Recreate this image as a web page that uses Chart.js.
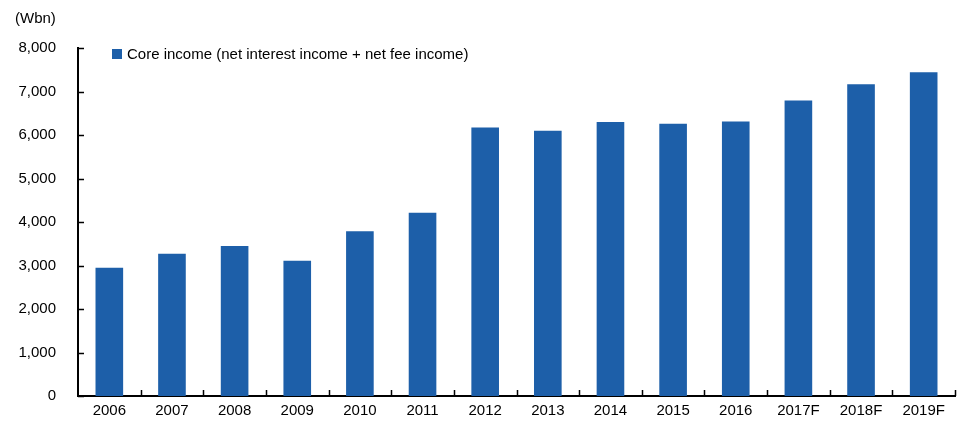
<!DOCTYPE html>
<html>
<head>
<meta charset="utf-8">
<script src="https://cdn.jsdelivr.net/npm/chart.js@4/dist/chart.umd.min.js"></script>
<style>
  html, body { margin: 0; padding: 0; background: #fff; }
  #wrap { width: 967px; height: 427px; }
</style>
</head>
<body>
<div id="wrap"><canvas id="myChart"></canvas></div>
<script>
const years = ['2006', '2007', '2008', '2009', '2010', '2011', '2012', '2013', '2014', '2015', '2016', '2017F', '2018F', '2019F'];
const coreIncome = [2950, 3270, 3450, 3110, 3785, 4215, 6170, 6100, 6300, 6260, 6310, 6795, 7165, 7445];
const seriesName = 'Core income (net interest income + net fee income)';
const unitLabel = '(Wbn)';

const barColor = '#1d5fa9';
const font = { family: '"Liberation Sans", Arial, sans-serif', size: 15 };

// inward tick marks, unit label and the legend in the top-left corner
const extras = {
    id: 'extras',
    afterDraw(chart) {
        const { ctx, chartArea, scales } = chart;
        const x = scales.x, y = scales.y;
        ctx.save();
        ctx.strokeStyle = '#000';
        ctx.lineWidth = 1.5;
        ctx.beginPath();
        y.ticks.forEach(t => {
            const py = Math.round(y.getPixelForValue(t.value)) + 0.5;
            ctx.moveTo(chartArea.left, py);
            ctx.lineTo(chartArea.left + 6, py);
        });
        const w = (chartArea.right - chartArea.left) / years.length;
        for (let i = 1; i <= years.length; i++) {
            const px = Math.round(chartArea.left + i * w) + 0.5;
            ctx.moveTo(px, chartArea.bottom);
            ctx.lineTo(px, chartArea.bottom - 6);
        }
        ctx.stroke();

        ctx.fillStyle = '#000';
        ctx.font = font.size + 'px ' + font.family;
        ctx.textBaseline = 'middle';
        ctx.textAlign = 'left';
        ctx.fillText(unitLabel, 15, 19);

        const ds = chart.data.datasets[0];
        ctx.fillStyle = ds.backgroundColor;
        ctx.fillRect(112, 49, 10, 10);
        ctx.fillStyle = '#000';
        ctx.fillText(ds.label, 127, 55);
        ctx.restore();
    }
};

const config = {
    type: 'bar',
    data: {
        labels: years,
        datasets: [{
            label: seriesName,
            data: coreIncome,
            backgroundColor: barColor,
            barPercentage: 0.9,
            categoryPercentage: 0.49,
        }],
    },
    options: {
        responsive: true,
        maintainAspectRatio: false,
        animation: false,
        layout: { padding: { top: 48, right: 12, left: 0, bottom: 0 } },
        plugins: {
            legend: { display: false },
            tooltip: { enabled: false },
        },
        scales: {
            x: {
                grid: { display: false, drawTicks: false },
                border: { color: '#000', width: 2 },
                ticks: { color: '#000', font, padding: 6, maxRotation: 0 },
                afterFit(scale) { scale.height = 30; },
            },
            y: {
                min: 0,
                max: 8000,
                grid: { display: false, drawTicks: false },
                border: { color: '#000', width: 2 },
                ticks: {
                    stepSize: 1000,
                    color: '#000',
                    font,
                    padding: 22,
                    callback: value => value.toLocaleString('en-US'),
                },
                afterFit(scale) { scale.width = 78; },
            },
        },
    },
    plugins: [extras],
};

const myChart = new Chart(document.querySelector('#myChart').getContext('2d'), config);
</script>
</body>
</html>
